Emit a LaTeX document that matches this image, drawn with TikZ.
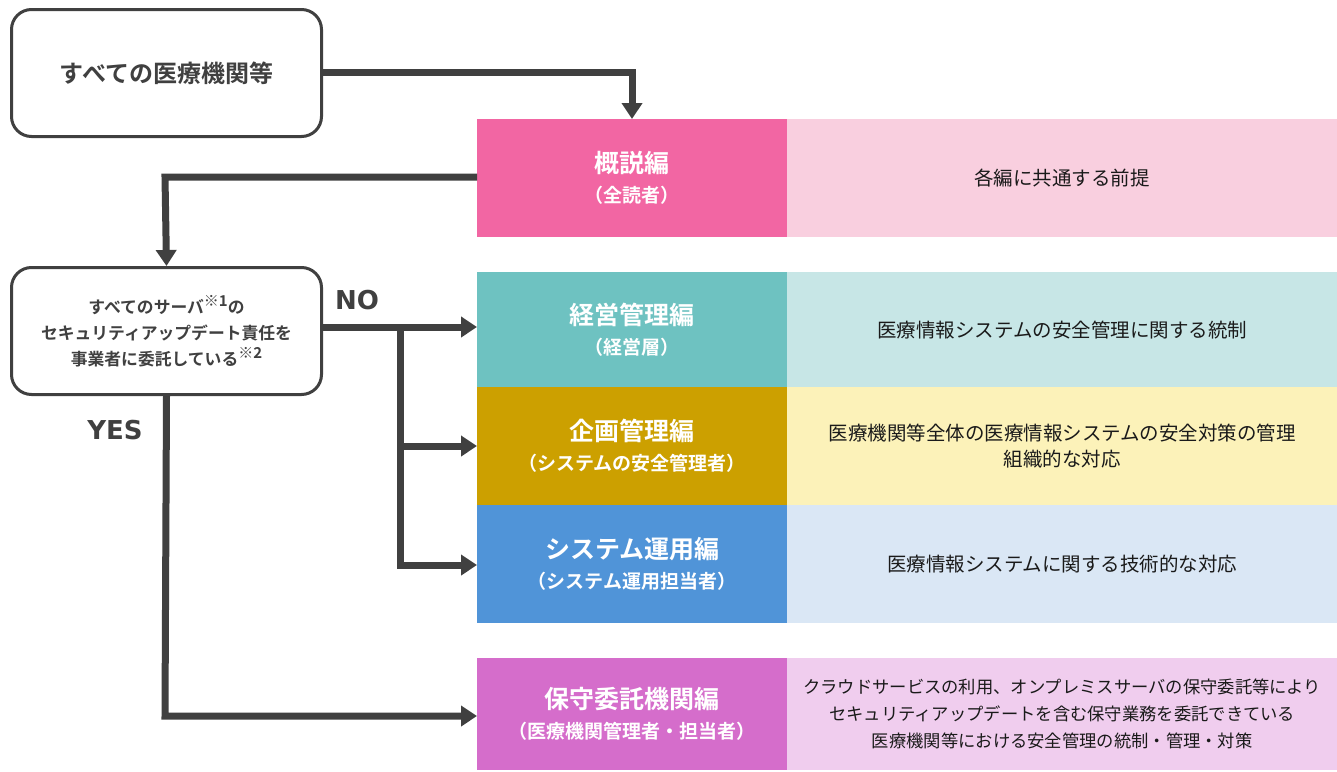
\documentclass[tikz,border=0pt]{standalone}
\usepackage{fontspec}
\setmainfont{Noto Sans CJK JP}
\newfontfamily\jpbold{Noto Sans CJK JP Bold}
\newfontfamily\latbold{DejaVu Sans Bold}
\usetikzlibrary{arrows.meta}
\definecolor{lineg}{HTML}{404040}
\definecolor{pinkA}{HTML}{F266A3}\definecolor{pinkB}{HTML}{F9CFDF}
\definecolor{tealA}{HTML}{6EC2C1}\definecolor{tealB}{HTML}{C7E6E6}
\definecolor{goldA}{HTML}{CCA000}\definecolor{goldB}{HTML}{FCF2B9}
\definecolor{blueA}{HTML}{5094D8}\definecolor{blueB}{HTML}{DAE7F5}
\definecolor{purpA}{HTML}{D56DCB}\definecolor{purpB}{HTML}{F0CDEE}
\definecolor{txt}{HTML}{1A1A1A}
\newcommand{\cattitle}[1]{{\fontsize{25}{30}\selectfont #1}}
\newcommand{\catsub}[1]{{\fontsize{19}{30}\selectfont #1}}
\newcommand{\supmark}[1]{\raisebox{0.45em}{\fontsize{15}{15}\selectfont #1}}
\begin{document}
\begin{tikzpicture}[x=1pt,y=-1pt,
  startbox/.style={draw=lineg,line width=3pt,rounded corners=20pt,fill=white,minimum width=310pt,anchor=north west,align=center,text=lineg,font=\jpbold},
  catbox/.style={anchor=north west,minimum width=310pt,align=center,text=white,font=\jpbold\fontsize{19}{30}\selectfont,inner sep=0pt},
  descbox/.style={anchor=north west,minimum width=550pt,align=center,text=txt,font=\fontsize{19.5}{26}\selectfont,inner sep=0pt},
  conn/.style={draw=lineg,line width=7pt,-{Triangle[length=16pt,width=20pt]}},
  plain/.style={draw=lineg,line width=7pt},
  lbl/.style={text=lineg,font=\latbold\fontsize{26}{30}\selectfont}]
\useasboundingbox (0,0) rectangle (1337,771);
\fill[white] (0,0) rectangle (1337,771);
% category rows
\node[catbox,fill=pinkA,minimum height=118pt] (c1) at (477,119) {\cattitle{概説編}\\\catsub{（全読者）}};
\node[descbox,fill=pinkB,minimum height=118pt] (d1) at (787,119) {各編に共通する前提};
\node[catbox,fill=tealA,minimum height=115pt] (c2) at (477,272) {\cattitle{経営管理編}\\\catsub{（経営層）}};
\node[descbox,fill=tealB,minimum height=115pt] (d2) at (787,272) {医療情報システムの安全管理に関する統制};
\node[catbox,fill=goldA,minimum height=118pt] (c3) at (477,387) {\cattitle{企画管理編}\\\catsub{（システムの安全管理者）}};
\node[descbox,fill=goldB,minimum height=118pt] (d3) at (787,387) {医療機関等全体の医療情報システムの安全対策の管理\\組織的な対応};
\node[catbox,fill=blueA,minimum height=118pt] (c4) at (477,505) {\cattitle{システム運用編}\\\catsub{（システム運用担当者）}};
\node[descbox,fill=blueB,minimum height=118pt] (d4) at (787,505) {医療情報システムに関する技術的な対応};
\node[catbox,fill=purpA,minimum height=112pt] (c5) at (477,658) {\cattitle{保守委託機関編}\\\catsub{（医療機関管理者・担当者）}};
\node[descbox,fill=purpB,minimum height=112pt,font=\fontsize{17.3}{27}\selectfont] (d5) at (787,658) {クラウドサービスの利用、オンプレミスサーバの保守委託等により\\セキュリティアップデートを含む保守業務を委託できている\\医療機関等における安全管理の統制・管理・対策};
% start & decision
\node[startbox,minimum height=127pt,font=\jpbold\fontsize{24}{28}\selectfont] (s) at (10,8) {すべての医療機関等};
\node[startbox,minimum height=127pt,font=\jpbold\fontsize{16.8}{26}\selectfont] (q) at (10,266) {すべてのサーバ\supmark{※1}の\\セキュリティアップデート責任を\\事業者に委託している\supmark{※2}};
% connectors
\coordinate (b1) at (632,72);
\draw[conn] (s.east |- b1) -- (b1) -- (c1.north -| b1);
\coordinate (b2) at (165,177);
\draw[conn] (c1.west |- b2) -- (b2) -- (q.north);
\coordinate (n0) at (400,327);
\draw[conn] (q.east |- n0) -- (c2.west |- n0);
\coordinate (n1) at (400,446);
\coordinate (n2) at (400,565);
\draw[plain] (n0) -- (n1);
\draw[conn] (n0) -- (n2) -- (c4.west |- n2);
\draw[conn] (n1) -- (c3.west |- n1);
\coordinate (y1) at (165,716);
\draw[conn] (q.south) -- (y1) -- (c5.west |- y1);
% labels
\node[lbl] (no) at (357,300) {NO};
\node[lbl] (yes) at (115,430) {YES};
\end{tikzpicture}
\end{document}
